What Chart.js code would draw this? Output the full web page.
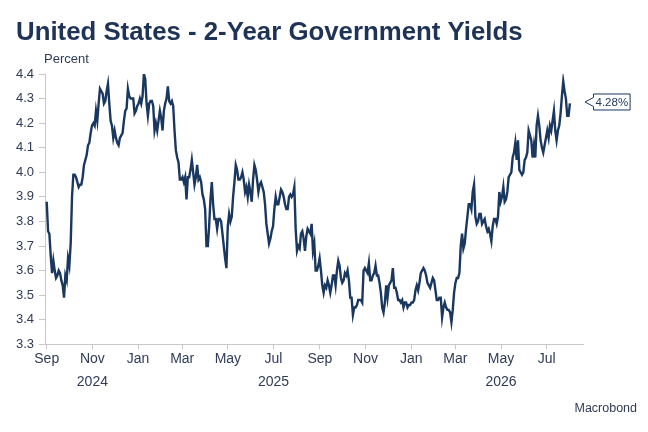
<!DOCTYPE html>
<html>
<head>
    <meta charset="utf-8">
    <title>United States - 2-Year Government Yields</title>
    <script src="https://cdn.jsdelivr.net/npm/chart.js"></script>
    <style>
        html, body { margin: 0; padding: 0; background: #ffffff; }
        #wrap { position: relative; width: 648px; height: 432px; }
    </style>
</head>
<body>
<div id="wrap"><canvas id="yieldChart"></canvas></div>
<script>
    // Readings taken off the chart at equal time steps between these two dates
    var seriesStart = '2024-09-01';
    var seriesEnd = '2026-08-01';
    var yields = [
        3.88, 3.76, 3.75, 3.66, 3.59, 3.64, 3.60, 3.57, 3.58, 3.60, 3.59, 3.56, 3.54, 3.49, 3.58, 3.56,
        3.65, 3.62, 3.71, 3.90, 3.99, 3.99, 3.98, 3.96, 3.94, 3.95, 3.95, 3.98, 4.03, 4.05, 4.07, 4.11,
        4.12, 4.16, 4.19, 4.20, 4.19, 4.25, 4.21, 4.28, 4.34, 4.33, 4.32, 4.28, 4.29, 4.33, 4.36, 4.28,
        4.21, 4.19, 4.14, 4.17, 4.14, 4.12, 4.11, 4.14, 4.15, 4.16, 4.21, 4.25, 4.26, 4.34, 4.31, 4.30,
        4.30, 4.30, 4.24, 4.25, 4.27, 4.28, 4.30, 4.28, 4.31, 4.40, 4.38, 4.28, 4.23, 4.28, 4.29, 4.29,
        4.27, 4.17, 4.20, 4.17, 4.21, 4.25, 4.22, 4.17, 4.25, 4.28, 4.30, 4.35, 4.29, 4.28, 4.29, 4.27,
        4.17, 4.09, 4.06, 4.04, 3.97, 3.97, 3.98, 3.96, 3.98, 3.89, 3.98, 3.98, 4.01, 4.05, 4.00, 3.95,
        3.98, 4.03, 3.97, 3.98, 3.96, 3.91, 3.89, 3.85, 3.70, 3.70, 3.78, 3.89, 3.96, 3.87, 3.81, 3.81,
        3.77, 3.81,
        3.81, 3.80, 3.75, 3.70, 3.65, 3.61, 3.78, 3.83, 3.80, 3.82, 3.90, 3.96, 4.03, 4.01, 3.97, 3.97,
        3.98, 4.00, 3.97, 3.92, 3.94, 3.90, 3.95, 3.92, 3.88, 3.97, 4.03, 4.01, 3.97, 3.92, 3.95, 3.96,
        3.94, 3.92, 3.87, 3.79, 3.75, 3.71, 3.73, 3.76, 3.78, 3.85, 3.90, 3.87, 3.87, 3.90, 3.93, 3.92,
        3.90, 3.87, 3.85, 3.85, 3.90, 3.91, 3.90, 3.91, 3.94, 3.77, 3.68, 3.70, 3.69, 3.75, 3.76, 3.73,
        3.68, 3.74,
        3.77, 3.76, 3.75, 3.79, 3.68, 3.71, 3.60, 3.60, 3.62, 3.65, 3.60, 3.54, 3.51, 3.54, 3.53, 3.56,
        3.54, 3.51, 3.54, 3.58, 3.58, 3.54, 3.60, 3.64, 3.62, 3.57, 3.55, 3.56, 3.59, 3.58, 3.60, 3.56,
        3.49, 3.49, 3.42, 3.45, 3.45, 3.46, 3.48, 3.48, 3.48, 3.47, 3.60, 3.61, 3.60, 3.59, 3.63, 3.56,
        3.56, 3.58, 3.59, 3.62, 3.58, 3.58, 3.55, 3.51, 3.45, 3.43, 3.47, 3.54, 3.49, 3.54, 3.55, 3.56,
        3.61, 3.53,
        3.53, 3.51, 3.48, 3.48, 3.47, 3.48, 3.45, 3.47, 3.47, 3.45, 3.46, 3.46, 3.47, 3.47, 3.48, 3.52,
        3.54, 3.52, 3.55, 3.59, 3.60, 3.61, 3.60, 3.58, 3.55, 3.54, 3.53, 3.55, 3.57, 3.56, 3.52, 3.48,
        3.48, 3.49, 3.49, 3.41, 3.45, 3.47, 3.45, 3.44, 3.44, 3.43, 3.39, 3.44, 3.51, 3.55, 3.57, 3.57,
        3.59, 3.70, 3.75, 3.69, 3.71, 3.77, 3.82, 3.87, 3.87, 3.85, 3.92, 3.95, 3.82, 3.79, 3.80, 3.83,
        3.83, 3.79,
        3.80, 3.81, 3.78, 3.76, 3.77, 3.75, 3.72, 3.78, 3.81, 3.81, 3.79, 3.82, 3.92, 3.88, 3.90, 3.94,
        3.88, 3.89, 3.92, 3.98, 3.99, 4.00, 4.06, 4.08, 4.12, 4.05, 4.13, 4.01, 4.00, 3.99, 4.00, 4.05,
        4.06, 4.08, 4.17, 4.15, 4.13, 4.06, 4.11, 4.06, 4.19, 4.23, 4.19, 4.13, 4.10, 4.08, 4.11, 4.14,
        4.17, 4.14, 4.19, 4.17, 4.21, 4.25, 4.17, 4.13, 4.17, 4.19, 4.24, 4.31, 4.37, 4.33, 4.30, 4.23,
        4.23, 4.28
    ];

    // Axis ticks
    var tickDates = ['2024-09-01', '2024-11-01', '2025-01-01', '2025-03-01', '2025-05-01', '2025-07-01',
                     '2025-09-01', '2025-11-01', '2026-01-01', '2026-03-01', '2026-05-01', '2026-07-01'];
    var tickMonths = ['Sep', 'Nov', 'Jan', 'Mar', 'May', 'Jul', 'Sep', 'Nov', 'Jan', 'Mar', 'May', 'Jul'];
    var tickYears = ['', '2024', '', '', '', '2025', '', '', '', '', '2026', ''];
    var yTicks = [3.3, 3.4, 3.5, 3.6, 3.7, 3.8, 3.9, 4.0, 4.1, 4.2, 4.3, 4.4];

    var navy = '#19375f';
    var textColor = '#2f3b57';
    var axisGray = '#c8c8c8';
    var fontFamily = '"Liberation Sans", Arial, sans-serif';
    var DAY = 86400000;

    function toMs(s) {
        var p = s.split('-');
        return Date.UTC(+p[0], +p[1] - 1, +p[2]);
    }

    var t0 = toMs(seriesStart);
    var t1 = toMs(seriesEnd);
    var step = (t1 - t0) / (yields.length - 1);
    var points = yields.map(function (v, i) {
        return { x: t0 + i * step, y: v };
    });

    // Title, unit, source and the last value tag
    var extras = {
        id: 'extras',
        afterDraw: function (chart) {
            var ctx = chart.ctx;
            var area = chart.chartArea;
            ctx.save();
            ctx.textBaseline = 'alphabetic';
            ctx.textAlign = 'left';
            ctx.fillStyle = '#1f3356';
            ctx.font = 'bold 25.8px ' + fontFamily;
            ctx.fillText('United States - 2-Year Government Yields', 16, 39.5);

            ctx.fillStyle = textColor;
            ctx.font = '13px ' + fontFamily;
            ctx.fillText('Percent', 44, 62.5);

            ctx.textAlign = 'right';
            ctx.font = '12.5px ' + fontFamily;
            ctx.fillText('Macrobond', 637, 411.5);

            var last = yields[yields.length - 1];
            var label = last.toFixed(2) + '%';
            var yPix = chart.scales.y.getPixelForValue(last) - 1.5;
            var tipX = area.right + 2;
            ctx.font = '11.5px ' + fontFamily;
            var w = ctx.measureText(label).width + 4;
            var left = tipX + 8.5, top = yPix - 8, h = 16;
            ctx.beginPath();
            ctx.moveTo(left, top);
            ctx.lineTo(left + w, top);
            ctx.lineTo(left + w, top + h);
            ctx.lineTo(left, top + h);
            ctx.lineTo(left, yPix + 4.5);
            ctx.lineTo(tipX, yPix);
            ctx.lineTo(left, yPix - 4.5);
            ctx.closePath();
            ctx.fillStyle = '#ffffff';
            ctx.fill();
            ctx.lineWidth = 1;
            ctx.strokeStyle = navy;
            ctx.stroke();
            ctx.fillStyle = navy;
            ctx.textAlign = 'left';
            ctx.textBaseline = 'middle';
            ctx.fillText(label, left + 2, yPix + 0.5);
            ctx.restore();
        }
    };

    var ctx = document.getElementById('yieldChart').getContext('2d');
    var myChart = new Chart(ctx, {
        type: 'line',
        data: {
            datasets: [{
                label: '2-Year Government Yield',
                data: points,
                borderColor: navy,
                borderWidth: 2.4,
                pointRadius: 0,
                tension: 0,
                fill: false
            }]
        },
        options: {
            responsive: true,
            maintainAspectRatio: false,
            animation: false,
            layout: { padding: { top: 74, right: 65, bottom: 0, left: 0 } },
            plugins: {
                legend: { display: false },
                tooltip: { enabled: false }
            },
            scales: {
                x: {
                    type: 'linear',
                    min: t0 - 2.3 * DAY,
                    max: t0 + 716.5 * DAY,
                    afterBuildTicks: function (scale) {
                        scale.ticks = tickDates.map(function (d) { return { value: toMs(d) }; });
                    },
                    afterFit: function (scale) { scale.height = 87.7; },
                    grid: {
                        display: true,
                        drawOnChartArea: false,
                        drawTicks: true,
                        tickLength: 5,
                        color: axisGray
                    },
                    border: { display: true, color: axisGray, width: 1 },
                    ticks: {
                        autoSkip: false,
                        maxRotation: 0,
                        minRotation: 0,
                        padding: -2,
                        color: textColor,
                        font: { family: fontFamily, size: 14, lineHeight: 1.65 },
                        callback: function (value, index) {
                            return tickYears[index] ? [tickMonths[index], tickYears[index]] : tickMonths[index];
                        }
                    }
                },
                y: {
                    min: 3.3,
                    max: 4.4,
                    afterBuildTicks: function (scale) {
                        scale.ticks = yTicks.map(function (v) { return { value: v }; });
                    },
                    afterFit: function (scale) { scale.width = 45; },
                    grid: {
                        display: true,
                        drawOnChartArea: false,
                        drawTicks: true,
                        tickLength: 6,
                        color: axisGray
                    },
                    border: { display: true, color: axisGray, width: 1 },
                    ticks: {
                        padding: 5,
                        color: textColor,
                        font: { family: fontFamily, size: 13 },
                        callback: function (value) { return Number(value).toFixed(1); }
                    }
                }
            }
        },
        plugins: [extras]
    });
</script>
</body>
</html>
